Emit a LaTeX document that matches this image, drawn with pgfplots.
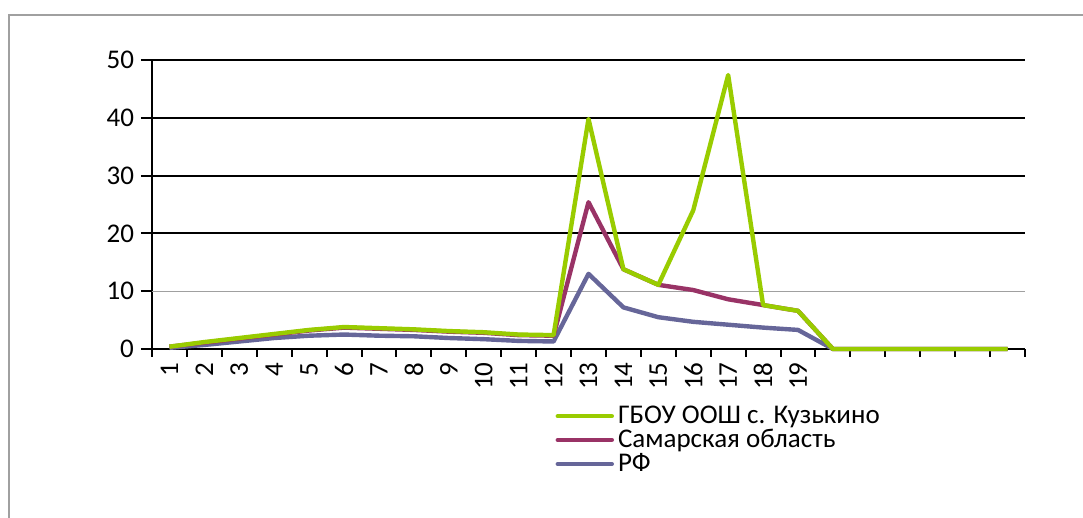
\documentclass[border=0pt]{standalone}
\usepackage{pgfplots}
\pgfplotsset{compat=1.18}
\usepackage{fontspec}
\setmainfont{Carlito}

\definecolor{limeline}{HTML}{99CC00}
\definecolor{plumline}{HTML}{993366}
\definecolor{slateline}{HTML}{666699}
\definecolor{framegray}{HTML}{A0A0A0}

% columns: category, school, region, country
\pgfplotstableread{
x  gbou  sam   rf
1  0.4   0.4   0.2
2  1.2   1.1   0.7
3  1.9   1.8   1.3
4  2.6   2.5   1.9
5  3.3   3.2   2.3
6  3.8   3.7   2.5
7  3.6   3.5   2.3
8  3.4   3.3   2.2
9  3.1   3.0   1.9
10 2.9   2.8   1.7
11 2.5   2.4   1.4
12 2.4   2.3   1.3
13 39.8  25.4  13.0
14 13.8  13.8  7.2
15 11.1  11.1  5.5
16 24.0  10.2  4.7
17 47.4  8.6   4.2
18 7.6   7.6   3.7
19 6.6   6.6   3.3
20 0     0     0
21 0     0     0
22 0     0     0
23 0     0     0
24 0     0     0
25 0     0     0
}\datatable

\begin{document}
\begin{tikzpicture}
\useasboundingbox (-76pt,-84.5pt) rectangle (465.5pt,174.5pt);
\draw[framegray, line width=1pt] (-71.5pt,-90pt) -- (-71.5pt,167pt) -- (470pt,167pt);
\begin{axis}[
    at={(0pt,0pt)}, anchor=south west,
    scale only axis,
    width=436.5pt, height=144.5pt,
    xmin=0.5, xmax=25.5,
    ymin=0, ymax=50,
    axis lines=left,
    axis line style={black, line width=1pt, -},
    font=\fontsize{13.5}{16}\selectfont,
    /pgf/number format/assume math mode=true,
    xtick={1,...,19},
    major x tick style={draw=none},
    minor xtick={0.5,1.5,...,25.5},
    minor x tick style={black, line width=1pt},
    minor tick length=4pt,
    xticklabel style={rotate=90, anchor=east, inner sep=1pt},
    ytick={0,20,30,40,50},
    extra y ticks={10},
    extra y tick style={major grid style={framegray, line width=0.6pt}},
    y tick style={black, line width=1pt},
    major tick length=5.5pt,
    tick align=outside,
    ymajorgrids,
    major grid style={black, line width=1pt},
    clip=false,
    reverse legend,
    legend cell align=left,
    legend style={draw=none, fill=none, at={(0.455,-0.168)}, anchor=north west,
        row sep=-2.6pt, font=\fontsize{13.5}{16}\selectfont},
    legend image code/.code={\draw[#1, line cap=round] (0pt,0pt) -- (27pt,0pt);},
]
\addplot[slateline, line width=2.2pt, line join=round] table[x=x, y=rf] {\datatable};
\addlegendentry{РФ}
\addplot[plumline, line width=2.2pt, line join=round] table[x=x, y=sam] {\datatable};
\addlegendentry{Самарская область}
\addplot[limeline, line width=2.2pt, line join=round] table[x=x, y=gbou] {\datatable};
\addlegendentry{ГБОУ ООШ с. Кузькино}
\end{axis}
\end{tikzpicture}
\end{document}
